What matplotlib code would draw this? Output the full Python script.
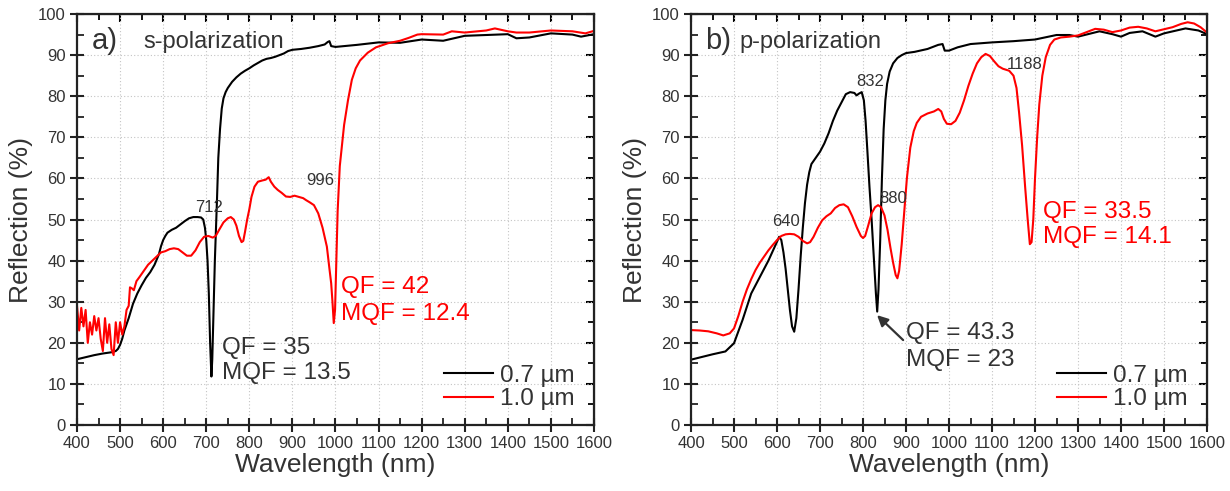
import matplotlib
matplotlib.use("Agg")
import matplotlib.pyplot as plt
from matplotlib.ticker import MultipleLocator

plt.rcParams['font.family'] = ['Liberation Sans', 'DejaVu Sans']

# ---------------- Panel a) s-polarization ----------------
wl_a_07 = [400, 420, 440, 460, 480, 490, 495, 500, 505, 510, 520, 530, 540, 550, 560, 570,
           580, 590, 595, 600, 605, 610, 620, 630, 640, 650, 660, 670, 680, 688, 693, 697,
           700, 703, 706, 709, 712, 714, 717, 720, 725, 728, 732, 736, 740, 745, 750, 760,
           770, 780, 790, 800, 810, 820, 830, 840, 850, 860, 870, 880, 890, 900, 920, 940,
           960, 975, 982, 986, 990, 1000, 1050, 1100, 1150, 1200, 1250, 1300, 1350, 1400,
           1420, 1450, 1500, 1550, 1570, 1600]
r_a_07 = [16.0, 16.5, 17.0, 17.4, 17.7, 18.0, 18.5, 19.5, 21.0, 23.0, 26.0, 29.5, 32.0, 34.0, 35.8, 37.2,
          39.0, 41.5, 43.5, 45.0, 46.0, 46.8, 47.5, 48.0, 48.8, 49.6, 50.3, 50.6, 50.6, 50.5, 50.0, 48.0,
          45.0, 40.0, 32.0, 20.0, 11.8, 16.0, 28.0, 40.0, 55.0, 65.0, 72.0, 77.0, 79.5, 81.0, 82.0, 83.5,
          84.6, 85.5, 86.2, 86.8, 87.5, 88.1, 88.7, 89.1, 89.3, 89.6, 90.0, 90.4, 91.0, 91.3, 91.5, 91.8,
          92.2, 92.6, 93.2, 93.4, 92.2, 92.0, 92.5, 93.1, 93.0, 93.8, 93.5, 94.7, 94.9, 95.1,
          94.1, 94.3, 95.3, 95.0, 94.5, 95.1]

wl_a_10 = [400, 405, 410, 415, 420, 425, 430, 435, 440, 445, 450, 455, 460, 465, 470, 475,
           480, 485, 490, 495, 500, 505, 510, 515, 520, 523, 528, 532, 538, 545, 555, 565,
           575, 585, 595, 605, 615, 625, 635, 645, 655, 665, 675, 685, 695, 705, 715, 722,
           730, 740, 750, 757, 764, 770, 776, 782, 786, 790, 795, 800, 805, 812, 820, 830,
           838, 845, 850, 858, 866, 875, 885, 895, 905, 915, 925, 932, 940, 950, 960, 970,
           980, 986, 990, 993, 996, 999, 1002, 1005, 1010, 1020, 1029, 1038, 1047, 1057,
           1075, 1094, 1122, 1150, 1170, 1190, 1200, 1250, 1270, 1300, 1350, 1370, 1400,
           1420, 1450, 1500, 1550, 1580, 1600]
r_a_10 = [29.0, 23.0, 28.5, 24.0, 28.0, 20.0, 25.0, 22.0, 26.5, 23.0, 26.0, 21.0, 18.0, 26.0, 20.0, 24.5,
          18.5, 17.0, 25.0, 20.0, 25.0, 22.0, 24.0, 28.0, 29.0, 33.5, 33.2, 32.8, 35.0, 36.0, 37.5, 39.0,
          40.0, 41.0, 42.0, 42.3, 42.8, 43.0, 42.8, 42.0, 41.2, 41.2, 42.5, 44.5, 45.8, 46.0, 45.6, 46.0,
          47.5, 49.3, 50.3, 50.6, 50.0, 48.5, 46.0, 44.5, 44.8, 47.0, 50.0, 52.5, 55.5, 58.0, 59.2, 59.5,
          59.7, 60.3, 59.2, 58.0, 57.2, 56.5, 55.6, 55.5, 55.8, 55.5, 55.2, 54.7, 54.2, 53.5, 51.5, 48.0,
          43.4, 38.0, 34.5, 30.0, 24.8, 28.0, 40.0, 52.0, 63.0, 73.0, 79.0, 84.0, 86.8, 88.7,
          90.6, 91.9, 92.9, 93.5, 94.2, 95.0, 95.1, 95.0, 95.8, 95.5, 96.0, 96.5, 95.8,
          95.5, 95.5, 96.0, 95.8, 95.3, 95.9]

# ---------------- Panel b) p-polarization ----------------
wl_b_07 = [400, 450, 480, 500, 520, 540, 560, 580, 600, 605, 610, 615, 620, 625, 630, 635,
           640, 645, 650, 655, 660, 665, 670, 675, 680, 690, 700, 710, 720, 730, 740, 750,
           760, 770, 780, 785, 790, 797, 802, 806, 810, 815, 820, 825, 830, 833, 836, 840,
           844, 848, 852, 856, 862, 870, 880, 890, 900, 920, 950, 975, 985, 990, 1000, 1020,
           1050, 1100, 1150, 1200, 1250, 1280, 1300, 1350, 1380, 1400, 1420, 1450, 1480,
           1500, 1550, 1580, 1600]
r_b_07 = [15.9, 17.2, 17.9, 19.9, 25.6, 32.0, 36.0, 40.0, 44.6, 45.8, 45.0, 42.0, 38.0, 33.0, 28.0, 24.0,
          22.7, 26.0, 33.0, 41.0, 48.0, 54.0, 58.5, 61.5, 63.5, 65.0, 66.5, 68.5, 71.0, 74.0, 76.5, 78.5,
          80.5, 81.0, 80.8, 80.2, 80.6, 81.0, 79.0, 74.0, 67.0, 58.0, 50.0, 41.0, 32.0, 27.6, 33.0, 45.0,
          60.0, 72.0, 79.0, 83.0, 86.0, 88.0, 89.3, 90.0, 90.5, 90.8, 91.5, 92.5, 92.7, 91.1, 91.1, 91.9,
          92.7, 93.1, 93.4, 93.8, 94.9, 94.9, 94.5, 95.8, 95.1, 94.5, 95.4, 95.8, 94.5,
          95.3, 96.5, 96.0, 95.1]

wl_b_10 = [400, 420, 440, 460, 475, 490, 500, 510, 520, 530, 540, 550, 560, 570, 580, 590,
           600, 610, 620, 630, 640, 650, 660, 670, 677, 685, 695, 705, 715, 725, 735, 745,
           755, 765, 775, 785, 795, 800, 805, 812, 820, 828, 835, 842, 850, 857, 864, 870,
           876, 880, 884, 890, 896, 902, 910, 918, 925, 935, 950, 965, 975, 982, 988, 995,
           1005, 1015, 1025, 1035, 1045, 1055, 1065, 1075, 1085, 1095, 1105, 1115, 1125,
           1140, 1150, 1157, 1163, 1170, 1177, 1183, 1188, 1192, 1196, 1200, 1205, 1210,
           1217, 1225, 1235, 1245, 1260, 1280, 1300, 1320, 1340, 1360, 1380, 1400, 1420,
           1440, 1460, 1480, 1500, 1520, 1540, 1555, 1570, 1585, 1600]
r_b_10 = [23.1, 23.0, 22.8, 22.3, 21.8, 22.3, 23.5, 26.5, 30.0, 33.0, 35.5, 37.7, 39.5, 41.0, 42.5, 43.8,
          45.0, 46.0, 46.4, 46.5, 46.4, 45.8, 44.8, 44.2, 44.5, 45.8, 48.0, 49.8, 50.8, 51.5, 52.8, 53.5,
          53.7, 53.0, 50.8, 48.2, 46.0, 45.5, 46.0, 48.5, 51.5, 53.0, 53.5, 53.0, 51.0, 47.5, 43.0, 39.5,
          36.5, 35.7, 37.5, 44.0, 52.0, 60.0, 67.5, 71.5, 73.5, 75.0, 75.8, 76.3, 76.9, 76.3, 74.5, 73.3,
          73.2, 74.0, 76.0, 79.0, 82.5, 85.5, 88.0, 89.5, 90.3, 89.8, 88.5, 87.3, 86.7,
          86.2, 85.0, 82.0, 76.0, 68.0, 58.0, 50.0, 44.0, 44.5, 50.0, 60.0, 70.0, 78.0,
          85.0, 89.5, 92.5, 93.8, 94.3, 94.5, 94.8, 95.6, 96.4, 96.2, 95.6, 96.0, 96.7,
          96.9, 96.5, 95.8, 96.3, 96.8, 97.6, 98.0, 97.7, 96.8, 95.5]

legend_labels = ["0.7 µm", "1.0 µm"]
xticks = list(range(400, 1601, 100))
yticks = list(range(0, 101, 10))

TXT = "#333333"
RED = "#ff0000"

fig = plt.figure(figsize=(12.3, 4.91), dpi=100)
ax_a = fig.add_axes([0.0626, 0.1344, 0.4203, 0.837])
ax_b = fig.add_axes([0.5618, 0.1344, 0.4195, 0.837])


def style(ax):
    ax.set_xlim(400, 1600)
    ax.set_ylim(0, 100)
    ax.set_xticks(xticks)
    ax.set_yticks(yticks)
    ax.xaxis.set_minor_locator(MultipleLocator(50))
    ax.yaxis.set_minor_locator(MultipleLocator(5))
    ax.grid(True, which='major', linestyle=(0, (1, 2)), color='#c4c4c4', linewidth=0.8)
    ax.set_axisbelow(True)
    for s in ax.spines.values():
        s.set_linewidth(1.6)
        s.set_color('#222222')
    ax.tick_params(which='major', direction='inout', length=10, width=1.5,
                   labelsize=12, labelcolor=TXT, color='#222222', pad=3)
    ax.tick_params(which='minor', direction='in', length=5, width=1.3, color='#222222')
    sx = ax.secondary_xaxis('top')
    sx.set_xticks(xticks)
    sx.xaxis.set_minor_locator(MultipleLocator(50))
    sx.tick_params(which='major', direction='in', length=6, width=1.5, labeltop=False)
    sx.tick_params(which='minor', direction='in', length=4, width=1.3)
    sy = ax.secondary_yaxis('right')
    sy.set_yticks(yticks)
    sy.yaxis.set_minor_locator(MultipleLocator(5))
    sy.tick_params(which='major', direction='in', length=6, width=1.5, labelright=False)
    sy.tick_params(which='minor', direction='in', length=4, width=1.3)
    ax.set_xlabel("Wavelength (nm)", fontsize=19, color=TXT, labelpad=1)
    ax.set_ylabel("Reflection (%)", fontsize=19, color=TXT, labelpad=4)


for ax in (ax_a, ax_b):
    style(ax)

# panel a
ax_a.plot(wl_a_07, r_a_07, color='black', lw=1.5, label=legend_labels[0])
ax_a.plot(wl_a_10, r_a_10, color=RED, lw=1.5, label=legend_labels[1])
ax_a.text(434, 93.5, "a)", fontsize=21, color=TXT, va='center', ha='left')
ax_a.text(553, 93.2, "s-polarization", fontsize=17, color=TXT, va='center', ha='left')
ax_a.text(707, 53, "712", fontsize=12, color=TXT, ha='center', va='center')
ax_a.text(964, 59.6, "996", fontsize=12, color=TXT, ha='center', va='center')
ax_a.text(737, 18.7, "QF = 35", fontsize=17.5, color=TXT, ha='left', va='center')
ax_a.text(737, 12.6, "MQF = 13.5", fontsize=17.5, color=TXT, ha='left', va='center')
ax_a.text(1012, 33.6, "QF = 42", fontsize=17.5, color=RED, ha='left', va='center')
ax_a.text(1012, 27.0, "MQF = 12.4", fontsize=17.5, color=RED, ha='left', va='center')

# panel b
ax_b.plot(wl_b_07, r_b_07, color='black', lw=1.5, label=legend_labels[0])
ax_b.plot(wl_b_10, r_b_10, color=RED, lw=1.5, label=legend_labels[1])
ax_b.text(432, 93.5, "b)", fontsize=21, color=TXT, va='center', ha='left')
ax_b.text(512, 93.2, "p-polarization", fontsize=17, color=TXT, va='center', ha='left')
ax_b.text(621, 49.4, "640", fontsize=12, color=TXT, ha='center', va='center')
ax_b.text(816, 83.7, "832", fontsize=12, color=TXT, ha='center', va='center')
ax_b.text(870, 55.0, "880", fontsize=12, color=TXT, ha='center', va='center')
ax_b.text(1177, 87.8, "1188", fontsize=12, color=TXT, ha='center', va='center')
ax_b.text(900, 22.4, "QF = 43.3", fontsize=17.5, color=TXT, ha='left', va='center')
ax_b.text(900, 15.8, "MQF = 23", fontsize=17.5, color=TXT, ha='left', va='center')
ax_b.annotate("", xy=(828, 27.2), xytext=(898, 20.2),
              arrowprops=dict(arrowstyle='-|>', color='#333333', lw=1.6, mutation_scale=16))
ax_b.text(1218, 51.8, "QF = 33.5", fontsize=17.5, color=RED, ha='left', va='center')
ax_b.text(1218, 45.7, "MQF = 14.1", fontsize=17.5, color=RED, ha='left', va='center')

for ax in (ax_a, ax_b):
    leg = ax.legend(loc='lower right', bbox_to_anchor=(1.0, -0.012), frameon=False,
                    fontsize=17.5, handlelength=2.0, handletextpad=0.3,
                    labelspacing=0.08, borderaxespad=0.4)
    for t in leg.get_texts():
        t.set_color(TXT)

fig.savefig("out.png", dpi=100)
